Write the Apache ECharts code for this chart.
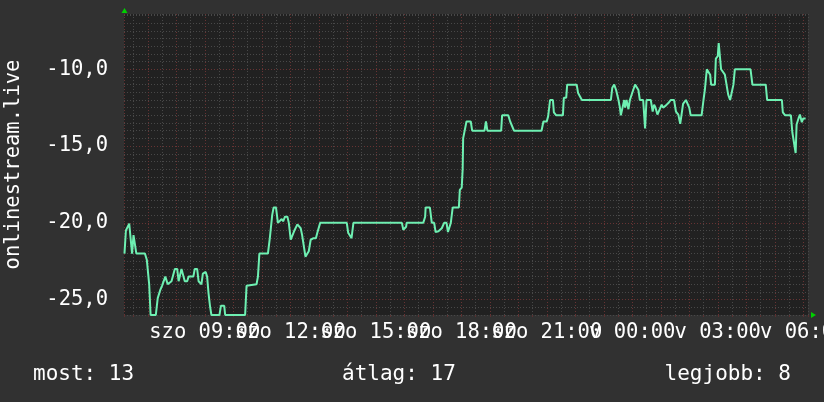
<!DOCTYPE html>
<html>
<head>
<meta charset="utf-8">
<style>html,body{margin:0;padding:0;background:#313131;}#c{width:824px;height:402px;}</style>
<script src="https://cdn.jsdelivr.net/npm/echarts@6/dist/echarts.min.js"></script>
</head>
<body>
<div id="c"></div>
<script>
// time in minutes since Saturday 00:00
const times = [371,374,377,381,384,387,390,394,396,414,418,423,426,437,441,446,450,454,457,462,466,470,474,477,482,485,488,491,495,498,503,506,516,519,524,527,530,533,536,542,545,548,551,554,571,574,581,583,625,628,632,649,652,655,673,677,682,685,690,694,
698,702,705,709,714,717,721,724,728,731,735,738,742,745,749,752,756,759,763,769,774,777,780,783,839,842,849,853,955,958,964,965,1000,1004,1005,1014,1018,1023,1026,1032,1039,1044,1049,1052,1055,1058,1062,1075,1077,1081,1083,1084,1088,1091,1100,1103,1129,1132,1135,1164,1166,1179,1183,1187,1191,1249,1253,1260,1263,1267,1273,1275,1280,1294,1296,1301,1303,1323,1326,1330,1334,1395,1398,1402,1406,1411,1414,1416,1419,1423,1425,1428,1432,1435,1439,1442,1446,1449,1453,1456,1463,1467,1470,1479,1483,1486,1489,1493,1497,1502,1505,1511,1516,1521,1528,1532,1537,1541,1544,1547,1553,1557,1560,1563,1586,1590,1593,1597,1600,1604,1606,1614,1616,1620,1622,1625,1627,1630,1635,1639,1642,1646,1649,1653,1656,1689,1693,1721,1724,1755,1757,1762,1774,1777,1781,1784,1786,1790,1793,1797,1800,1805];
const values = [-22.0,-20.5,-20.4,-20.05,-20.05,-22.0,-20.8,-20.8,-22.0,-22.0,-22.4,-24.0,-26,-26,-24.9,-24.4,-24.1,-24.1,-23.5,-24.0,-24.1,-23.8,-23.8,-23.0,-23.0,-23.8,-23.8,-23.0,-23.0,-23.8,-23.8,-23.5,-23.5,-23.0,-23.0,-23.8,-23.9,-24.0,-23.3,-23.2,-23.5,-24.6,-25.4,-26,-26,-25.4,-25.4,-26,-26,-24.1,-24.0,-24.0,-23.5,-22.0,-22.0,-21.0,-19.5,-19.0,-19.0,-20.0,
-20.0,-19.75,-19.9,-19.6,-19.6,-20.0,-21.1,-21.1,-20.55,-20.45,-20.1,-20.1,-20.35,-20.8,-20.9,-22.2,-22.2,-21.85,-21.1,-21.0,-21.0,-20.65,-20.55,-20.0,-20.0,-20.65,-21.0,-20.0,-20.0,-20.45,-20.25,-20.0,-20.0,-19.6,-19.0,-19.0,-20.0,-20.0,-20.6,-20.55,-20.35,-20.0,-20.0,-20.6,-20.6,-20.0,-19.0,-19.0,-17.85,-17.7,-16.5,-14.5,-14.4,-13.4,-13.4,-14.0,-14.0,-13.4,-14.0,-14.0,-13.0,-13.0,-13.4,-13.4,-14.0,-14.0,-13.4,-13.4,-13.05,-12.0,-12.0,-12.8,-13.0,-13.0,-11.85,-11.85,-11.0,-11.0,-11.55,-11.6,-12.0,-12.0,-11.2,-11.0,-11.35,-12.0,-12.5,-13.0,-13.0,-12.0,-12.5,-12.0,-12.6,-12.0,-12.0,-11.35,-11.0,-11.0,-11.35,-12.0,-12.0,-13.85,-12.0,-12.0,-12.75,-12.3,-12.5,-12.95,-13.0,-12.3,-12.5,-12.35,-12.2,-12.0,-12.0,-12.75,-12.95,-13.55,-13.55,-12.25,-12.0,-12.0,-12.5,-13.0,-13.0,-12.0,-11.3,-10.0,-10.0,-10.35,-11.0,-11.0,-9.3,-9.15,-8.3,-8.2,-10.0,-10.0,-10.35,-10.35,-11.65,-12.0,-12.0,-11.0,-10.0,-10.0,-11.0,-11.0,-12.0,-12.0,-12.8,-13.0,-13.0,-14.1,-14.1,-15.45,-13.6,-13.2,-12.95,-13.45,-13.2,-13.2];

const xTickValues = [540,720,900,1080,1260,1440,1620,1800];
const xTickLabels = ['szo 09:00','szo 12:00','szo 15:00','szo 18:00','szo 21:00','v 00:00','v 03:00','v 06:00'];
const yTickValues = [-25,-20,-15,-10];
const yTickLabels = ['-25,0','-20,0','-15,0','-10,0'];
const seriesName = 'onlinestream.live';
const footer = ['most: 13','átlag: 17','legjobb: 8'];

const data = times.map((t,i)=>[t, values[i]]);
const MONO = 'DejaVu Sans Mono';
const RED = '#673333', GRAY = '#484848';

const chart = echarts.init(document.getElementById('c'), null, {renderer:'canvas'});
chart.setOption({
  backgroundColor:'#313131',
  animation:false,
  grid:{left:124,right:16,top:14,bottom:87,show:true,backgroundColor:'#212121',borderWidth:0,
        containLabel:false,outerBoundsMode:'none'},
  xAxis:{
    type:'value', min:370, max:1810, splitNumber:48,
    axisLine:{show:false},
    axisTick:{show:true,length:2,lineStyle:{color:'#5a3030'}},
    axisLabel:{color:'#ffffff',fontFamily:MONO,fontSize:20.5,margin:7,hideOverlap:false,
      formatter:v=>{const i=xTickValues.indexOf(v);return i>=0?xTickLabels[i]:'';}},
    splitLine:{show:true,lineStyle:{color:[RED,GRAY],type:[1,2],width:1}}
  },
  yAxis:{
    type:'value', min:-26, max:-6.4, interval:0.5,
    name:seriesName, nameLocation:'middle', nameRotate:90, nameGap:100,
    nameTextStyle:{color:'#ffffff',fontFamily:MONO,fontSize:20.5},
    axisLine:{show:false}, axisTick:{show:false},
    axisLabel:{color:'#ffffff',fontFamily:MONO,fontSize:20.5,margin:16,
      formatter:v=>{const i=yTickValues.indexOf(v);return i>=0?yTickLabels[i]:'';}},
    splitLine:{show:true,lineStyle:{color:[GRAY,GRAY,RED,GRAY,GRAY,GRAY,GRAY,GRAY,GRAY,GRAY],type:[1,2],width:1}}
  },
  series:[{
    type:'line', name:seriesName, data:data, showSymbol:false, symbol:'none',
    lineStyle:{color:'#6ef0b2',width:2}, clip:true, z:5
  }],
  graphic:[
    {type:'polygon',shape:{points:[[121.5,13],[127.5,13],[124.5,8]]},style:{fill:'#00d000'},z:10},
    {type:'polygon',shape:{points:[[811,312],[811,318],[816,315]]},style:{fill:'#00d000'},z:10},
    {type:'text',left:33,top:364,style:{text:footer[0],fill:'#ffffff',font:'21px "DejaVu Sans Mono"'}},
    {type:'text',left:342,top:364,style:{text:footer[1],fill:'#ffffff',font:'21px "DejaVu Sans Mono"'}},
    {type:'text',right:33,top:364,style:{text:footer[2],fill:'#ffffff',font:'21px "DejaVu Sans Mono"'}}
  ]
});
</script>
</body>
</html>
